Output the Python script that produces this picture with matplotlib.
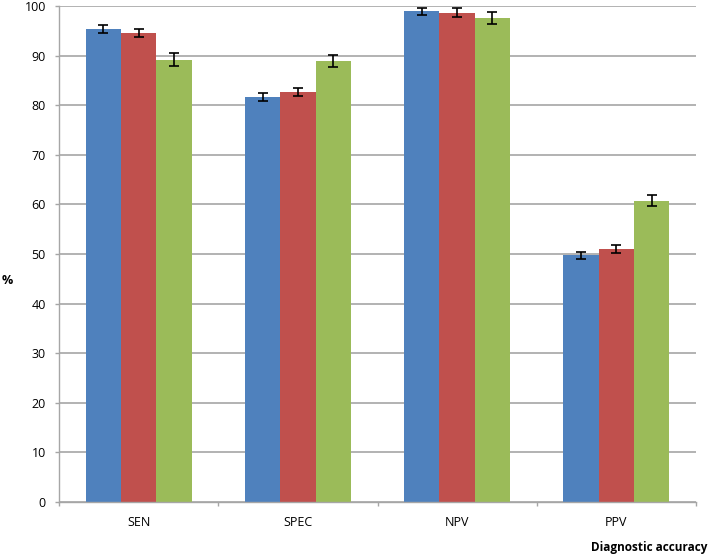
import matplotlib
matplotlib.use("Agg")
import matplotlib.pyplot as plt
import numpy as np

categories = ["SEN", "SPEC", "NPV", "PPV"]
series_a = [95.4, 81.6, 98.9, 49.7]
series_b = [94.5, 82.7, 98.65, 51.1]
series_c = [89.2, 88.9, 97.6, 60.7]
err_a = [0.8, 0.8, 0.75, 0.65]
err_b = [0.85, 0.85, 0.85, 0.8]
err_c = [1.25, 1.2, 1.25, 1.1]
yticks = list(range(0, 101, 10))

plt.rcParams['font.family'] = ['Open Sans', 'DejaVu Sans']
fig = plt.figure(figsize=(7.09, 5.58), dpi=100)
ax = fig.add_axes([59 / 709, 56 / 558, 637 / 709, 496 / 558])

x = np.arange(len(categories))
w = 0.2217
colors = ["#4F81BD", "#C0504D", "#9BBB59"]
for i, (vals, errs) in enumerate([(series_a, err_a), (series_b, err_b), (series_c, err_c)]):
    ax.bar(x + (i - 1) * w, vals, w, color=colors[i], zorder=2,
           yerr=errs, error_kw=dict(ecolor="black", elinewidth=1.2, capsize=3.5, capthick=1.2, zorder=3))

ax.set_xlim(-0.5, len(categories) - 0.5)
ax.set_ylim(0, 100)
ax.set_yticks(yticks)
ax.set_yticklabels([str(t) for t in yticks], fontsize=9)
ax.yaxis.grid(True, color="#A6A6A6", linewidth=1.2, zorder=0)
ax.set_axisbelow(True)
ax.set_xticks(x)
ax.set_xticklabels(categories, fontsize=9)
ax.set_xticks(np.arange(-0.5, len(categories), 1.0), minor=True)
ax.tick_params(axis='x', which='major', length=0, pad=10)
ax.tick_params(axis='x', which='minor', length=3, color="#A6A6A6", width=1)
ax.tick_params(axis='y', length=3, color="#A6A6A6", width=1, pad=6.5)
for s in ["top", "right"]:
    ax.spines[s].set_visible(False)
ax.spines["left"].set_color("#A6A6A6")
ax.spines["bottom"].set_color("#A6A6A6")
ax.spines["left"].set_linewidth(1)
ax.spines["bottom"].set_linewidth(1)

fig.text(7 / 709, 1 - 280 / 558, "%", fontsize=9, fontweight="bold", ha="center", va="center")
fig.text(707 / 709, 1 - 548 / 558, "Diagnostic accuracy", fontsize=8.5, fontweight="bold", ha="right", va="center")

fig.savefig("out.png", dpi=100)
